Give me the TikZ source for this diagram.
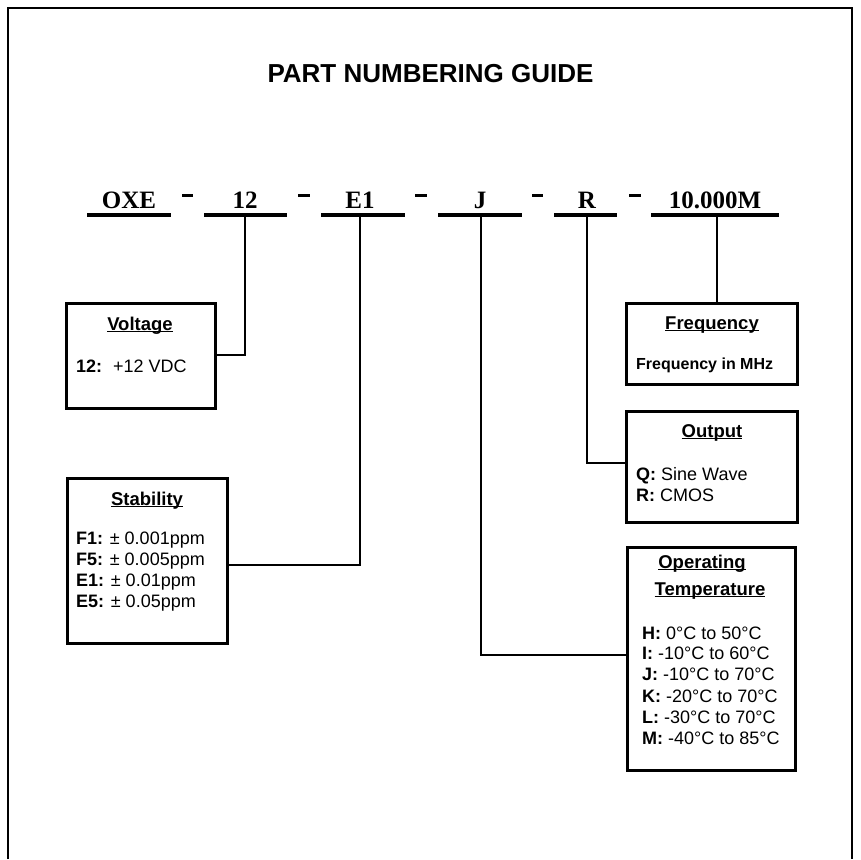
\documentclass[tikz,border=0pt]{standalone}
\usepackage{fontspec}
\setmainfont{Liberation Sans}
\newfontfamily\serifpn{Liberation Serif}
\newsavebox\ulbox
\newcommand\hul[1]{\sbox\ulbox{#1}\rlap{\rule[-2.2pt]{\wd\ulbox}{1.5pt}}\usebox\ulbox}
\tikzset{
 box/.style={draw, line width=3pt, rectangle, inner sep=0pt, outer sep=0pt, anchor=north west},
 pn/.style={font=\serifpn\bfseries\fontsize{25}{28}\selectfont, anchor=base, inner sep=0pt},
 pnline/.style={line width=3.5pt},
 dashmark/.style={line width=3pt},
 link/.style={line width=2pt},
 head/.style={font=\bfseries\fontsize{18.5}{22}\selectfont, anchor=base, inner sep=0pt},
 body/.style={font=\fontsize{18}{21}\selectfont, anchor=base west, inner sep=0pt},
 bodysm/.style={font=\bfseries\fontsize{16}{19}\selectfont, anchor=base west, inner sep=0pt},
}
\begin{document}
\begin{tikzpicture}[x=1pt,y=-1pt]
\useasboundingbox (0,0) rectangle (861,859);
% outer frame (open at bottom)
\draw[line width=2.5pt] (8,859) -- (8,8) -- (852,8) -- (852,859);
% title
\node[font=\bfseries\fontsize{26}{30}\selectfont, anchor=base, inner sep=0pt] (title) at (430.5,82) {PART NUMBERING GUIDE};

% part number fields
\node[pn] (pOXE) at (129,208) {OXE};
\node[pn] (p12)  at (245,208) {12};
\node[pn] (pE1)  at (360,208) {E1};
\node[pn] (pJ)   at (480,208) {J};
\node[pn] (pR)   at (587,208) {R};
\node[pn] (pM)   at (715,208) {10.000M};

% underlines
\coordinate (lOXE) at (87,215);  \coordinate (rOXE) at (171,215);
\coordinate (l12) at (204,215);  \coordinate (r12) at (287,215);
\coordinate (lE1) at (321,215);  \coordinate (rE1) at (405,215);
\coordinate (lJ) at (438,215);   \coordinate (rJ) at (522,215);
\coordinate (lR) at (554,215);   \coordinate (rR) at (617,215);
\coordinate (lM) at (651,215);   \coordinate (rM) at (779,215);
\draw[pnline] (lOXE) -- (rOXE);
\draw[pnline] (l12) -- (r12);
\draw[pnline] (lE1) -- (rE1);
\draw[pnline] (lJ) -- (rJ);
\draw[pnline] (lR) -- (rR);
\draw[pnline] (lM) -- (rM);

% separating dashes
\draw[dashmark] (182,195) -- (193,195);
\draw[dashmark] (298,195) -- (310,195);
\draw[dashmark] (415,195) -- (427,195);
\draw[dashmark] (532,195) -- (543,195);
\draw[dashmark] (629,195) -- (641,195);

% taps on underlines
\coordinate (u12) at (245,215);
\coordinate (uE1) at (360,215);
\coordinate (uJ)  at (481,215);
\coordinate (uR)  at (587,215);
\coordinate (uM)  at (716.5,215);

% boxes
\node[box, minimum width=149pt, minimum height=105pt] (volt) at (66,303) {};
\node[box, minimum width=160pt, minimum height=165pt] (stab) at (67,478) {};
\node[box, minimum width=171pt, minimum height=81pt]  (freq) at (626,303) {};
\node[box, minimum width=171pt, minimum height=111pt] (outp) at (626,411) {};
\node[box, minimum width=168pt, minimum height=223pt] (temp) at (627,547) {};

% connectors
\draw[link] (u12) |- ([yshift=0.5pt]volt.east);
\draw[link] (uE1) |- ([yshift=-4.5pt]stab.east);
\draw[link] (uM) -- (uM |- freq.north);
\draw[link] (uR) |- ([yshift=3.5pt]outp.west);
\draw[link] (uJ) |- ([yshift=3.5pt]temp.west);

% Voltage
\node[head] (vh) at (140,330) {\hul{Voltage}};
\node[body] (v1) at (76,372) {\textbf{12:}\hspace{11pt}+12 VDC};

% Stability
\node[head] (sh) at (147,505) {\hul{Stability}};
\node[body] (s1) at (76,544) {\textbf{F1:} ± 0.001ppm};
\node[body] (s2) at (76,565.5) {\textbf{F5:} ± 0.005ppm};
\node[body] (s3) at (76,586.5) {\textbf{E1:} ± 0.01ppm};
\node[body] (s4) at (76,607.5) {\textbf{E5:} ± 0.05ppm};

% Frequency
\node[head] (fh) at (712,329) {\hul{Frequency}};
\node[bodysm] (f1) at (636,369) {Frequency in MHz};

% Output
\node[head] (oh) at (712,437) {\hul{Output}};
\node[body] (o1) at (636,480) {\textbf{Q:} Sine Wave};
\node[body] (o2) at (636,501) {\textbf{R:} CMOS};

% Operating Temperature
\node[head] (th1) at (702,568) {\hul{Operating}};
\node[head] (th2) at (710,595) {\hul{Temperature}};
\node[body] (t1) at (642,639) {\textbf{H:} 0°C to 50°C};
\node[body] (t2) at (642,659.5) {\textbf{I:} -10°C to 60°C};
\node[body] (t3) at (642,680.5) {\textbf{J:} -10°C to 70°C};
\node[body] (t4) at (642,702) {\textbf{K:} -20°C to 70°C};
\node[body] (t5) at (642,723) {\textbf{L:} -30°C to 70°C};
\node[body] (t6) at (642,744) {\textbf{M:} -40°C to 85°C};
\end{tikzpicture}
\end{document}
